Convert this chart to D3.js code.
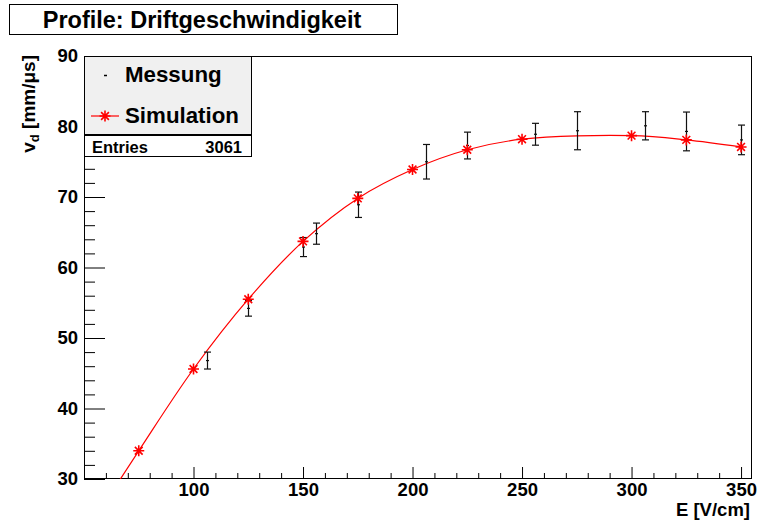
<!DOCTYPE html>
<html>
<head>
<meta charset="utf-8">
<script src="https://cdn.jsdelivr.net/npm/d3@7"></script>
<style>
  html, body { margin: 0; padding: 0; background: #fff; }
  svg { display: block; font-family: "Liberation Sans", Arial, Helvetica, sans-serif; }
</style>
</head>
<body>
<svg id="chart" width="757" height="524"></svg>
<script>
// Measured drift velocity (profile mean and error) vs. electric field
const measX   = [106, 125, 150, 156, 175, 206, 225, 256, 275, 306, 325, 350];
const measY   = [46.8, 54.2, 62.9, 64.8, 68.9, 75.0, 77.3, 78.9, 79.4, 80.1, 79.3, 78.1];
const measErr = [1.2, 1.1, 1.35, 1.5, 1.8, 2.45, 1.9, 1.55, 2.7, 2.0, 2.75, 2.1];

// Simulated drift velocity
const simX = [50, 75, 100, 125, 150, 175, 200, 225, 250, 300, 325, 350];
const simY = [22.0, 34.0, 45.6, 55.5, 63.7, 69.8, 73.9, 76.7, 78.2, 78.7, 78.1, 77.1];

// Axis ticks
const xMajorTicks = [100, 150, 200, 250, 300, 350];
const yMajorTicks = [30, 40, 50, 60, 70, 80, 90];
const xRange = [50, 355];
const yRange = [30, 90];

const entries = 3061;

const svg = d3.select("#chart");
const frame = { left: 84, right: 752, top: 56, bottom: 479 };

const x = d3.scaleLinear().domain(xRange).range([frame.left, frame.right]);
const y = d3.scaleLinear().domain(yRange).range([frame.bottom, frame.top]);

// Title box
svg.append("rect")
  .attr("x", 9.5).attr("y", 4.5).attr("width", 388).attr("height", 30)
  .attr("fill", "#fff").attr("stroke", "#000").attr("stroke-width", 1);
svg.append("text")
  .attr("x", 202).attr("y", 27.5)
  .attr("text-anchor", "middle")
  .style("font-size", "23.5px").style("font-weight", "bold")
  .text("Profile: Driftgeschwindigkeit");

// Clip region for the plotted data
svg.append("clipPath").attr("id", "plotClip")
  .append("rect")
  .attr("x", frame.left).attr("y", frame.top)
  .attr("width", frame.right - frame.left).attr("height", frame.bottom - frame.top);

// Minor ticks
const xMinor = d3.range(60, 355, 10).filter(v => !xMajorTicks.includes(v));
const yMinor = d3.range(32, 90, 2).filter(v => !yMajorTicks.includes(v));

svg.append("g")
  .attr("transform", `translate(0,${frame.bottom})`)
  .call(d3.axisBottom(x).tickValues(xMinor).tickSize(-6).tickFormat(""))
  .call(g => g.select(".domain").remove());
svg.append("g")
  .attr("transform", `translate(${frame.left},0)`)
  .call(d3.axisLeft(y).tickValues(yMinor).tickSize(-11).tickFormat(""))
  .call(g => g.select(".domain").remove());

// Major ticks with labels
const xAxis = svg.append("g")
  .attr("transform", `translate(0,${frame.bottom})`)
  .call(d3.axisBottom(x).tickValues(xMajorTicks).tickSize(-12).tickPadding(4).tickFormat(d3.format("d")))
  .call(g => g.select(".domain").remove());
xAxis.selectAll("text")
  .attr("fill", "#000")
  .style("font-size", "18.5px").style("font-weight", "bold")
  .style("font-family", "'Liberation Sans', Arial, sans-serif");

const yAxis = svg.append("g")
  .attr("transform", `translate(${frame.left},0)`)
  .call(d3.axisLeft(y).tickValues(yMajorTicks).tickSize(-21).tickPadding(6).tickFormat(d3.format("d")))
  .call(g => g.select(".domain").remove());
yAxis.selectAll("text")
  .attr("fill", "#000")
  .style("font-size", "18.5px").style("font-weight", "bold")
  .style("font-family", "'Liberation Sans', Arial, sans-serif");

svg.selectAll(".tick line").attr("stroke", "#000").attr("stroke-width", 1);

// Frame
svg.append("rect")
  .attr("x", frame.left + 0.5).attr("y", frame.top + 0.5)
  .attr("width", frame.right - frame.left - 1).attr("height", frame.bottom - frame.top - 1)
  .attr("fill", "none").attr("stroke", "#000").attr("stroke-width", 1);

// Axis titles
svg.append("text")
  .attr("transform", `translate(35,${frame.top - 1}) rotate(-90)`)
  .attr("text-anchor", "end")
  .style("font-size", "19px").style("font-weight", "bold")
  .call(t => {
    t.append("tspan").text("v");
    t.append("tspan").attr("dy", 4).style("font-size", "13px").text("d");
    t.append("tspan").attr("dy", -4).text(" [mm/\u03bcs]");
  });
svg.append("text")
  .attr("x", frame.right - 2).attr("y", 516)
  .attr("text-anchor", "end")
  .style("font-size", "18.5px").style("font-weight", "bold")
  .text("E [V/cm]");

const plot = svg.append("g").attr("clip-path", "url(#plotClip)");

// Simulation curve
const simData = simX.map((v, i) => [v, simY[i]]);
const line = d3.line()
  .x(d => x(d[0])).y(d => y(d[1]))
  .curve(d3.curveCatmullRom.alpha(0.5));
plot.append("path")
  .datum(simData)
  .attr("d", line)
  .attr("fill", "none").attr("stroke", "#ff0000").attr("stroke-width", 1.2);

// Star marker (asterisk of four strokes)
function starPath(r) {
  const d = r * Math.SQRT1_2;
  return `M${-r},0H${r}M0,${-r}V${r}M${-d},${-d}L${d},${d}M${-d},${d}L${d},${-d}`;
}

// Measured points with error bars
const meas = measX.map((v, i) => ({ x: v, y: measY[i], e: measErr[i] }));
const mg = plot.append("g").attr("stroke", "#111").attr("stroke-width", 1.2).attr("fill", "none");
meas.forEach(d => {
  const cx = Math.round(x(d.x)) + 0.5;
  const yt = y(d.y + d.e), yb = y(d.y - d.e), yc = y(d.y);
  mg.append("line").attr("x1", cx).attr("x2", cx).attr("y1", yt).attr("y2", yb);
  mg.append("line").attr("x1", cx - 3.5).attr("x2", cx + 3.5).attr("y1", yt).attr("y2", yt);
  mg.append("line").attr("x1", cx - 3.5).attr("x2", cx + 3.5).attr("y1", yb).attr("y2", yb);
  mg.append("line").attr("x1", cx - 1.5).attr("x2", cx + 1.5).attr("y1", yc).attr("y2", yc);
});

// Simulation markers
plot.append("g")
  .selectAll("path")
  .data(simData.filter(d => d[1] >= yRange[0]))
  .join("path")
  .attr("transform", d => `translate(${x(d[0])},${y(d[1])})`)
  .attr("d", starPath(5.5))
  .attr("stroke", "#ff0000").attr("stroke-width", 1.6).attr("fill", "none");

// Legend box
const lg = svg.append("g");
lg.append("rect")
  .attr("x", frame.left + 0.5).attr("y", frame.top + 0.5).attr("width", 167).attr("height", 79)
  .attr("fill", "#f0f0f0").attr("stroke", "#000").attr("stroke-width", 1);
lg.append("rect")
  .attr("x", frame.left + 0.5).attr("y", 135.5).attr("width", 167).attr("height", 21)
  .attr("fill", "#fff").attr("stroke", "#000").attr("stroke-width", 1);
lg.append("line")
  .attr("x1", frame.left).attr("x2", frame.left + 168).attr("y1", 135).attr("y2", 135)
  .attr("stroke", "#000").attr("stroke-width", 2);

// Legend entries
lg.append("line")
  .attr("x1", 104).attr("x2", 107).attr("y1", 75.5).attr("y2", 75.5)
  .attr("stroke", "#000").attr("stroke-width", 1.5);
lg.append("text").attr("x", 125).attr("y", 82)
  .style("font-size", "22.3px").style("font-weight", "bold").text("Messung");
lg.append("line")
  .attr("x1", 91).attr("x2", 119).attr("y1", 116).attr("y2", 116)
  .attr("stroke", "#ff0000").attr("stroke-width", 1.2);
lg.append("path")
  .attr("transform", "translate(105,116)")
  .attr("d", starPath(5.5))
  .attr("stroke", "#ff0000").attr("stroke-width", 1.6).attr("fill", "none");
lg.append("text").attr("x", 125).attr("y", 123)
  .style("font-size", "22.3px").style("font-weight", "bold").text("Simulation");

// Statistics line
lg.append("text").attr("x", 92).attr("y", 152.5)
  .style("font-size", "16.5px").style("font-weight", "bold").text("Entries");
lg.append("text").attr("x", 242).attr("y", 152.5).attr("text-anchor", "end")
  .style("font-size", "16.5px").style("font-weight", "bold").text(entries);
</script>
</body>
</html>
